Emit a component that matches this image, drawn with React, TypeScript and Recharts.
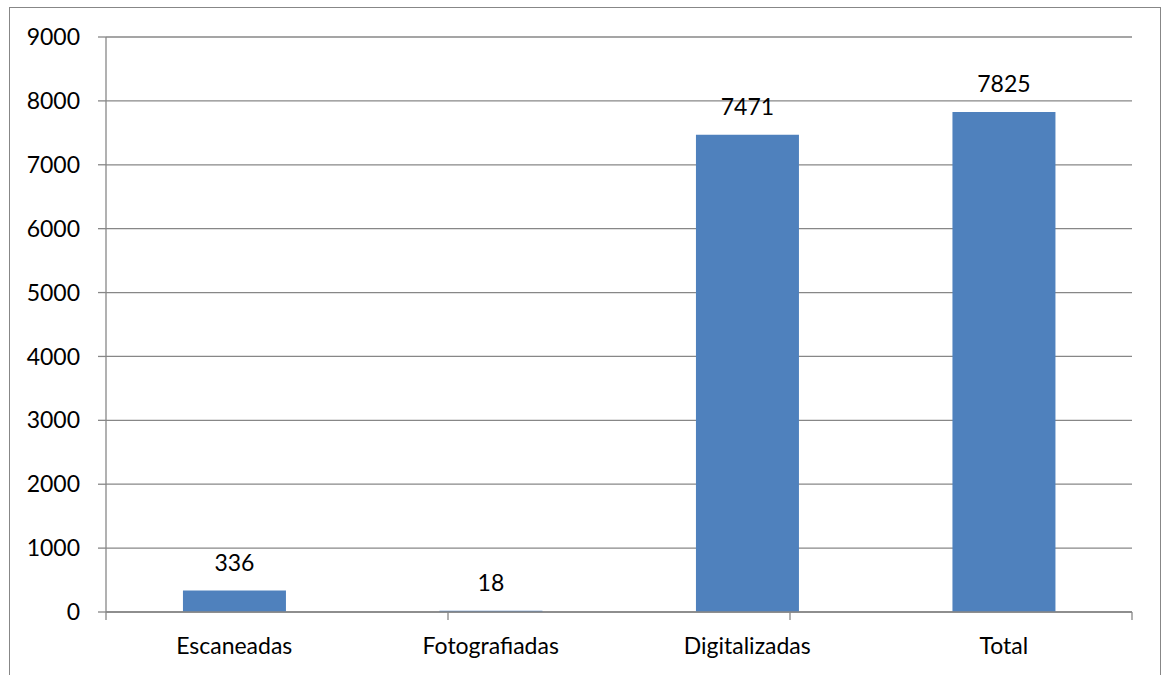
import React from 'react';
import { BarChart, Bar, XAxis, YAxis, CartesianGrid, LabelList } from 'recharts';

const categories = ['Escaneadas', 'Fotografiadas', 'Digitalizadas', 'Total'];
const values = [336, 18, 7471, 7825];
const yTicks = [0, 1000, 2000, 3000, 4000, 5000, 6000, 7000, 8000, 9000];
const boundaryTicks = [0, 1, 2, 3, 4];

const data = categories.map((name, i) => ({ name, value: values[i] }));

const font = 'Lato, "Open Sans", sans-serif';
const grey = '#878787';

export default function App() {
  return (
    <div style={{ position: 'absolute', left: 0, top: 0, width: 1162, height: 675, overflow: 'hidden', background: '#fff', fontFamily: font }}>
      <div style={{ position: 'absolute', left: 9, top: 7, width: 1150, height: 720, border: `1px solid ${grey}` }} />
      <BarChart
        width={1162}
        height={675}
        data={data}
        margin={{ top: 37, right: 30, left: 0, bottom: 0 }}
        barCategoryGap="30%"
        style={{ position: 'absolute', left: 0, top: 0 }}
      >
        <CartesianGrid horizontal vertical={false} stroke={grey} strokeWidth={1.3} />
        <XAxis
          xAxisId="bounds"
          type="number"
          domain={[0, 4]}
          ticks={boundaryTicks}
          interval={0}
          height={1}
          tickSize={8}
          tickFormatter={() => ''}
          stroke={grey}
          tickLine={{ stroke: grey, strokeWidth: 1.3 }}
          axisLine={{ stroke: grey, strokeWidth: 1.3 }}
        />
        <XAxis
          xAxisId="cat"
          dataKey="name"
          height={62}
          axisLine={false}
          tickLine={false}
          tickMargin={19}
          interval={0}
          tick={{ fill: '#000', fontSize: 23, fontFamily: font }}
        />
        <YAxis
          width={106}
          domain={[0, 9000]}
          ticks={yTicks}
          interval={0}
          tickSize={8}
          tickMargin={18}
          stroke={grey}
          axisLine={{ stroke: grey, strokeWidth: 1.3 }}
          tickLine={{ stroke: grey, strokeWidth: 1.3 }}
          tick={{ fill: '#000', fontSize: 23, fontFamily: font }}
        />
        <Bar xAxisId="cat" dataKey="value" fill="#4F81BD" isAnimationActive={false}>
          <LabelList dataKey="value" position="top" offset={20} fill="#000" fontSize={23} fontFamily={font} />
        </Bar>
      </BarChart>
    </div>
  );
}
